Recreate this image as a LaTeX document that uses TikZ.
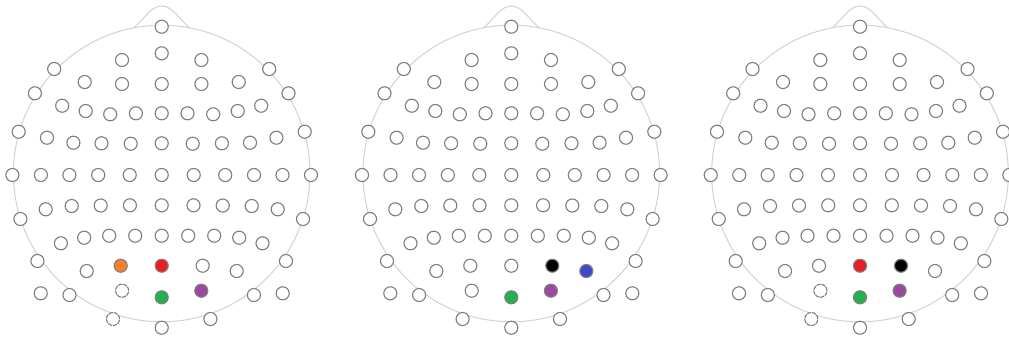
\documentclass[tikz,border=0pt]{standalone}
\definecolor{ringgray}{RGB}{128,128,128}
\definecolor{headgray}{RGB}{212,212,212}
\definecolor{eorange}{RGB}{245,128,37}
\definecolor{ered}{RGB}{237,28,36}
\definecolor{egreen}{RGB}{34,177,76}
\definecolor{epurple}{RGB}{155,73,160}
\definecolor{eblue}{RGB}{62,72,200}
\tikzset{
  elec/.style={circle, draw=ringgray, fill=white, line width=0.85pt, minimum size=9.8pt, inner sep=0pt},
  faint/.style={dash pattern=on 3.2pt off 0.6pt},
  headline/.style={draw=headgray, line width=0.8pt},
  % head 1
  c1-68/.style={fill=eorange},
  c1-69/.style={fill=ered},
  c1-75/.style={fill=egreen},
  c1-76/.style={fill=epurple},
  c1-74/.style={faint},
  c1-79/.style={faint},
  % head 2
  c2-70/.style={fill=black},
  c2-71/.style={fill=eblue},
  c2-75/.style={fill=egreen},
  c2-76/.style={fill=epurple},
  % head 3
  c3-69/.style={fill=ered},
  c3-70/.style={fill=black},
  c3-75/.style={fill=egreen},
  c3-76/.style={fill=epurple},
  c3-74/.style={faint},
  c3-79/.style={faint},
}
\def\elecs{0/26.7, 0/53.3, -39.7/60, 39.7/60, -107.5/69, 107.5/69,
  -77/82, -39.7/84, 0/84, 39.7/84, 77/82, -126.8/93.3, 126.8/93.3,
  -99.5/105.7, -76/111, -51.5/114.3, -25.8/113.3, 0/113.3, 25.8/113.3, 51.5/114.3, 76/111, 99.5/105.7,
  -143/131.7, 143/131.7,
  -114.7/137.7, -88.3/142.7, -60.2/143.3, -31/143.7, 0/143.3, 31/143.7, 60.2/143.3, 88.3/142.7, 114.7/137.7,
  -149.3/175, -120.8/175, -92.3/175, -63.5/175, -32/175, 0/175, 32/175, 63.5/175, 92.3/175, 120.8/175, 149.3/175,
  -116/209.3, -90/206, -61/205.5, -31.8/205.3, 0/205.3, 31.8/205.3, 61/205.5, 90/206, 116/209.3,
  -141.3/219, 141.3/219,
  -100.8/243.3, -77.5/237.7, -52.5/235.7, -26.5/235.7, 0/235.7, 26.5/235.7, 52.5/235.7, 77.5/237.7, 100.8/243.3,
  -124.3/261, 124.3/261,
  -75/271, -41/265.7, 0/265.7, 41/265.7, 75/271,
  -121/293.3, -92.2/295, -39.6/290.7, 0/297.3, 39.6/290.7, 92.2/295, 121/293.3,
  -48.7/319, 0/327.7, 48.7/319}
\begin{document}
\begin{tikzpicture}[x=0.75pt, y=-0.75pt]
\useasboundingbox (0,0) rectangle (1009,337);
\clip (0,0) rectangle (1009,337);
\foreach \cx [count=\h] in {161.7, 511.3, 860} {
  % head outline and nose
  \draw[headline] (\cx,173.5) circle[radius=148.3];
  \draw[headline] ({\cx-28},27.9) .. controls ({\cx-18},20) and ({\cx-11},6) .. (\cx,6)
                  .. controls ({\cx+11},6) and ({\cx+18},20) .. ({\cx+28},27.9);
  % electrodes
  \foreach \dx/\y [count=\i] in \elecs {
    \node[elec, c\h-\i/.try] (h\h e\i) at ({\cx+\dx},\y) {};
  }
}
\end{tikzpicture}
\end{document}
